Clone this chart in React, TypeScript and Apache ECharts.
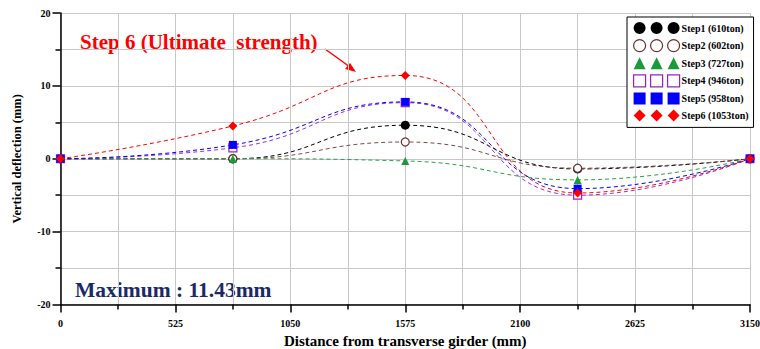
import React, { useEffect, useRef } from "react";
import * as echarts from "echarts";

const xValues = [0, 787.5, 1575, 2362.5, 3150];
const step1 = [0, 0, 4.6, -1.4, 0];
const step2 = [0, 0, 2.3, -1.3, 0];
const step3 = [0, 0, -0.3, -2.9, 0];
const step4 = [0, 1.5, 7.7, -5.0, 0];
const step5 = [0, 1.9, 7.8, -4.1, 0];
const step6 = [0, 4.5, 11.43, -4.7, 0];

const seriesNames = [
  "Step1 (610ton)",
  "Step2 (602ton)",
  "Step3 (727ton)",
  "Step4 (946ton)",
  "Step5 (958ton)",
  "Step6 (1053ton)",
];

const FONT = "Liberation Serif";

const circle3 =
  "path://M0,6A6,6,0,1,1,12,6A6,6,0,1,1,0,6Z M17,6A6,6,0,1,1,29,6A6,6,0,1,1,17,6Z M34,6A6,6,0,1,1,46,6A6,6,0,1,1,34,6Z";
const tri3 = "path://M6,0L12,12L0,12Z M23,0L29,12L17,12Z M40,0L46,12L34,12Z";
const sq3 = "path://M0,0H12V12H0Z M17,0H29V12H17Z M34,0H46V12H34Z";
const dia3 = "path://M6,0L12,6L6,12L0,6Z M23,0L29,6L23,12L17,6Z M40,0L46,6L40,12L34,6Z";

export default function App() {
  const ref = useRef<HTMLDivElement>(null);
  useEffect(() => {
    const chart = echarts.init(ref.current!, null, { renderer: "svg" });
    const mk = (vals: number[]) => vals.map((v, i) => [xValues[i], v]);
    const lineBase = (color: string) => ({
      type: "line",
      smooth: 0.5,
      lineStyle: { color, width: 1, type: [4, 3] },
      z: 2,
    });
    const option = {
      animation: false,
      textStyle: { fontFamily: FONT },
      grid: { left: 60.5, right: 10, top: 13, bottom: 44.5, outerBoundsMode: "none", containLabel: false },
      legend: {
        orient: "vertical",
        left: 627,
        top: 17,
        itemWidth: 46,
        itemHeight: 12,
        itemGap: 5,
        padding: [5, 5, 6, 6],
        backgroundColor: "#fff",
        borderColor: "#000",
        borderWidth: 1,
        textStyle: { fontFamily: FONT, fontWeight: "bold", fontSize: 10, color: "#000", padding: [0, 0, 0, -3] },
        data: [
          { name: seriesNames[0], icon: circle3, itemStyle: { color: "#000", borderWidth: 0 } },
          { name: seriesNames[1], icon: circle3, itemStyle: { color: "#fff", borderColor: "#6b3030", borderWidth: 1.2 } },
          { name: seriesNames[2], icon: tri3, itemStyle: { color: "#1a9a3a", borderWidth: 0 } },
          { name: seriesNames[3], icon: sq3, itemStyle: { color: "#fff", borderColor: "#9b1fd0", borderWidth: 1.2 } },
          { name: seriesNames[4], icon: sq3, itemStyle: { color: "#0000ff", borderWidth: 0 } },
          { name: seriesNames[5], icon: dia3, itemStyle: { color: "#ff0000", borderWidth: 0 } },
        ],
      },
      xAxis: {
        type: "value",
        min: 0,
        max: 3150,
        interval: 525,
        name: "Distance from transverse girder (mm)",
        nameLocation: "middle",
        nameGap: 28,
        nameTextStyle: { fontFamily: FONT, fontWeight: "bold", fontSize: 15, color: "#000" },
        axisLine: { show: true, onZero: false, lineStyle: { color: "#000", width: 1.5 } },
        axisTick: { show: true, length: 8, lineStyle: { color: "#000", width: 1.5 } },
        minorTick: { show: true, splitNumber: 2, length: 5, lineStyle: { color: "#000", width: 1.5 } },
        axisLabel: {
          fontFamily: FONT,
          fontWeight: "bold",
          fontSize: 10,
          color: "#000",
          margin: 14,
          formatter: (v: number) => String(v),
        },
        splitLine: { show: true, lineStyle: { color: "#c8c8c8", width: 1 } },
        minorSplitLine: { show: true, lineStyle: { color: "#c8c8c8", width: 1 } },
      },
      yAxis: {
        type: "value",
        min: -20,
        max: 20,
        interval: 10,
        name: "Vertical deflection (mm)",
        nameLocation: "middle",
        nameGap: 37,
        nameTextStyle: { fontFamily: FONT, fontWeight: "bold", fontSize: 12.5, color: "#000" },
        axisLine: { show: true, onZero: false, lineStyle: { color: "#000", width: 1.5 } },
        axisTick: { show: true, length: 8, lineStyle: { color: "#000", width: 1.5 } },
        minorTick: { show: true, splitNumber: 2, length: 5, lineStyle: { color: "#000", width: 1.5 } },
        axisLabel: { fontFamily: FONT, fontWeight: "bold", fontSize: 10, color: "#000", margin: 10 },
        splitLine: { show: true, lineStyle: { color: "#c8c8c8", width: 1 } },
        minorSplitLine: { show: true, lineStyle: { color: "#c8c8c8", width: 1 } },
      },
      series: [
        {
          ...lineBase("#000"),
          name: seriesNames[0],
          data: mk(step1),
          symbol: "circle",
          symbolSize: 9,
          itemStyle: { color: "#000" },
        },
        {
          ...lineBase("#7a4a4a"),
          name: seriesNames[1],
          data: mk(step2),
          symbol: "circle",
          symbolSize: 8,
          itemStyle: { color: "#fff", borderColor: "#6b3030", borderWidth: 1.2 },
        },
        {
          ...lineBase("#2aa04a"),
          name: seriesNames[2],
          data: mk(step3),
          symbol: "triangle",
          symbolSize: 8,
          itemStyle: { color: "#1a9a3a" },
        },
        {
          ...lineBase("#9b30e0"),
          name: seriesNames[3],
          data: mk(step4),
          symbol: "rect",
          symbolSize: 8,
          itemStyle: { color: "#fff", borderColor: "#9b1fd0", borderWidth: 1.2 },
        },
        {
          ...lineBase("#0000ff"),
          name: seriesNames[4],
          data: mk(step5),
          symbol: "rect",
          symbolSize: 8,
          itemStyle: { color: "#0000ff" },
        },
        {
          ...lineBase("#ff0000"),
          name: seriesNames[5],
          data: mk(step6),
          symbol: "diamond",
          symbolSize: 9,
          itemStyle: { color: "#ff0000" },
        },
      ],
      graphic: [
        {
          type: "text",
          left: 80,
          top: 31,
          style: {
            text: "Step 6 (Ultimate  strength)",
            fontFamily: FONT,
            fontWeight: "bold",
            fontSize: 21,
            fill: "#ff0000",
          },
        },
        {
          type: "line",
          shape: { x1: 325, y1: 49, x2: 350, y2: 67 },
          style: { stroke: "#ff0000", lineWidth: 1.5 },
        },
        {
          type: "polygon",
          shape: { points: [[356, 72], [345, 69], [350, 63]] },
          style: { fill: "#ff0000" },
        },
        {
          type: "text",
          left: 75,
          top: 279,
          style: {
            text: "Maximum : 11.43mm",
            fontFamily: FONT,
            fontWeight: "bold",
            fontSize: 21.5,
            fill: "#1a2a66",
          },
        },
      ],
    };
    chart.setOption(option as any);
    return () => chart.dispose();
  }, []);
  return <div ref={ref} style={{ width: 760, height: 349, position: "absolute", left: 0, top: 0 }} />;
}
